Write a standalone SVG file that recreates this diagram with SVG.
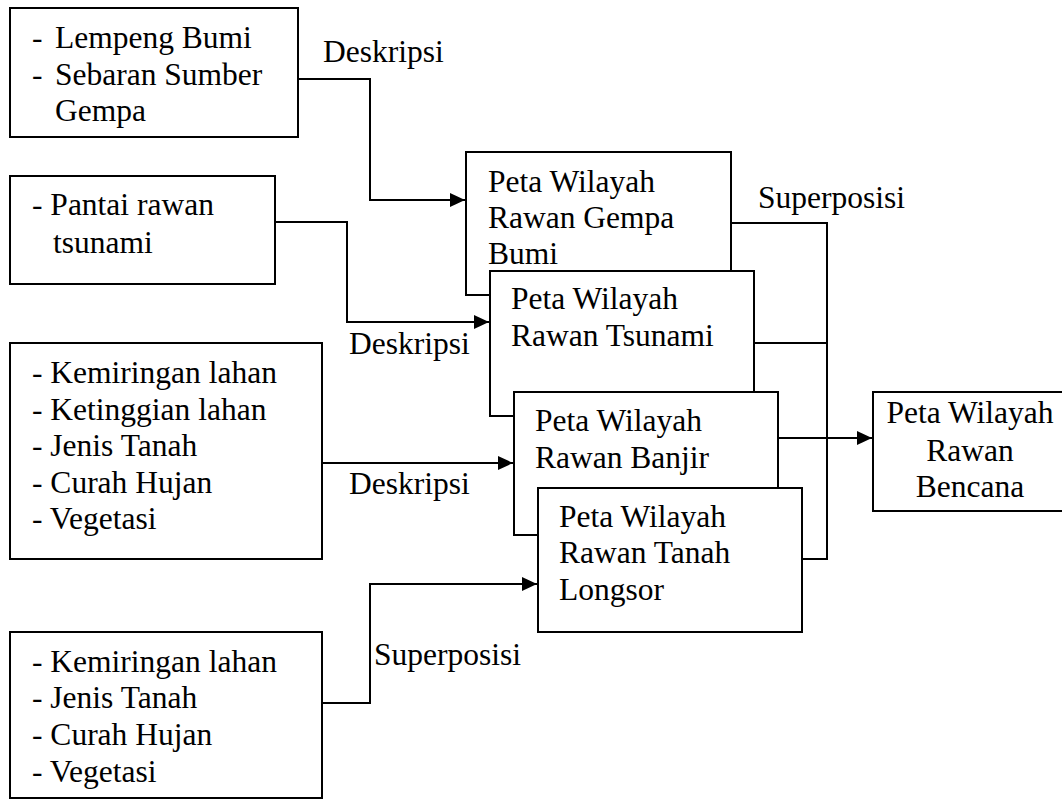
<svg xmlns="http://www.w3.org/2000/svg" width="1062" height="800" viewBox="0 0 1062 800" font-family="'Liberation Serif', 'DejaVu Serif', serif" font-size="31.5">
  <style>
    .box { fill: #ffffff; stroke: #000000; stroke-width: 2; }
    text { font-family: 'Liberation Serif', 'DejaVu Serif', serif; font-size: 31.5px; fill: #000000; }
    .mid { text-anchor: middle; }
    .wire { fill: none; stroke: #000000; stroke-width: 2; }
  </style>
  <defs>
    <marker id="arrow" viewBox="0 0 15 14" refX="15" refY="7" markerWidth="15" markerHeight="14" markerUnits="userSpaceOnUse" orient="auto">
      <path d="M0,0 L15,7 L0,14 Z" fill="#000000"/>
    </marker>
  </defs>
  <rect width="1062" height="800" fill="#ffffff"/>

  <!-- input data boxes -->
  <g id="input-gempa">
    <rect class="box" x="10" y="8" width="288" height="129"/>
    <text><tspan x="32" y="48">-</tspan><tspan x="55" y="48">Lempeng Bumi</tspan></text>
    <text><tspan x="32" y="85">-</tspan><tspan x="55" y="85">Sebaran Sumber</tspan></text>
    <text x="55" y="121">Gempa</text>
  </g>

  <g id="input-tsunami">
    <rect class="box" x="10" y="176" width="265" height="108"/>
    <text x="32" y="215">- Pantai rawan</text>
    <text x="53" y="253">tsunami</text>
  </g>

  <g id="input-banjir">
    <rect class="box" x="10" y="343" width="312" height="216"/>
    <text x="32" y="383">- Kemiringan lahan</text>
    <text x="32" y="420">- Ketinggian lahan</text>
    <text x="32" y="456">- Jenis Tanah</text>
    <text x="32" y="493">- Curah Hujan</text>
    <text x="32" y="529">- Vegetasi</text>
  </g>

  <g id="input-longsor">
    <rect class="box" x="10" y="632" width="312" height="166"/>
    <text x="32" y="672">- Kemiringan lahan</text>
    <text x="32" y="708">- Jenis Tanah</text>
    <text x="32" y="745">- Curah Hujan</text>
    <text x="32" y="782">- Vegetasi</text>
  </g>

  <!-- stacked hazard maps, each drawn over the previous one -->
  <g id="peta-gempa">
    <rect class="box" x="466" y="152" width="265" height="143"/>
    <text x="488" y="192">Peta Wilayah</text>
    <text x="488" y="228">Rawan Gempa</text>
    <text x="488" y="264">Bumi</text>
  </g>

  <g id="peta-tsunami">
    <rect class="box" x="490" y="271" width="264" height="145"/>
    <text x="511" y="309">Peta Wilayah</text>
    <text x="511" y="346">Rawan Tsunami</text>
  </g>

  <g id="peta-banjir">
    <rect class="box" x="514" y="392" width="264" height="143"/>
    <text x="535" y="431">Peta Wilayah</text>
    <text x="535" y="468">Rawan Banjir</text>
  </g>

  <g id="peta-longsor">
    <rect class="box" x="538" y="488" width="264" height="144"/>
    <text x="559" y="527">Peta Wilayah</text>
    <text x="559" y="563">Rawan Tanah</text>
    <text x="559" y="600">Longsor</text>
  </g>

  <g id="peta-bencana">
    <rect class="box" x="873" y="392" width="195" height="119"/>
    <text class="mid" x="970" y="423">Peta Wilayah</text>
    <text class="mid" x="970" y="461">Rawan</text>
    <text class="mid" x="970" y="497">Bencana</text>
  </g>

  <!-- connectors -->
  <g id="connectors">
    <path class="wire" d="M298,79 H370 V200 H465" marker-end="url(#arrow)"/>
    <path class="wire" d="M275,222 H347 V322 H489" marker-end="url(#arrow)"/>
    <path class="wire" d="M322,463 H513" marker-end="url(#arrow)"/>
    <path class="wire" d="M322,703 H370 V584 H537" marker-end="url(#arrow)"/>
    <path class="wire" d="M731,223 H827 V559 H802"/>
    <path class="wire" d="M754,343 H827"/>
    <path class="wire" d="M778,438 H872" marker-end="url(#arrow)"/>
  </g>

  <!-- connector labels -->
  <g id="labels">
    <text x="323" y="62">Deskripsi</text>
    <text x="349" y="354">Deskripsi</text>
    <text x="349" y="494">Deskripsi</text>
    <text x="758" y="208">Superposisi</text>
    <text x="374" y="665">Superposisi</text>
  </g>
</svg>
